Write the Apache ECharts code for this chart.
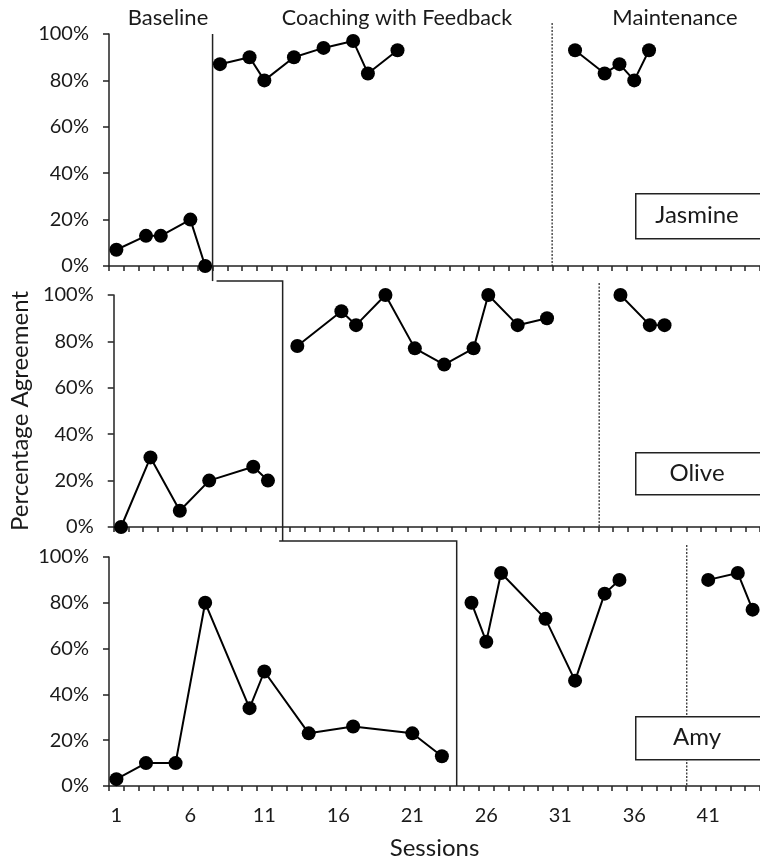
<!DOCTYPE html>
<html><head><meta charset="utf-8">
<script src="https://cdn.jsdelivr.net/npm/echarts@6/dist/echarts.min.js"></script>
<style>html,body{margin:0;padding:0;background:#fff}#c{width:760px;height:861px}</style>
</head><body><div id="c"></div>
<script>
// ---- data ----
const sessionLabels = ['1','2','3','4','5','6','7','8','9','10','11','12','13','14','15','16','17','18','19','20','21','22',
  '23','24','25','26','27','28','29','30','31','32','33','34','35','36','37','38','39','40','41','42','43','44'];
const yTicks = [0, 20, 40, 60, 80, 100];
const phaseTitles = ['Baseline', 'Coaching with Feedback', 'Maintenance'];
const participants = ['Jasmine', 'Olive', 'Amy'];

const jasmineBaseline = [[1,7],[3,13],[4,13],[6,20],[7,0]];
const jasmineCoaching = [[8,87],[10,90],[11,80],[13,90],[15,94],[17,97],[18,83],[20,93]];
const jasmineMaint    = [[32,93],[34,83],[35,87],[36,80],[37,93]];
const oliveBaseline   = [[1,0],[3,30],[5,7],[7,20],[10,26],[11,20]];
const oliveCoaching   = [[13,78],[16,93],[17,87],[19,100],[21,77],[23,70],[25,77],[26,100],[28,87],[30,90]];
const oliveMaint      = [[35,100],[37,87],[38,87]];
const amyBaseline     = [[1,3],[3,10],[5,10],[7,80],[10,34],[11,50],[14,23],[17,26],[21,23],[23,13]];
const amyCoaching     = [[25,80],[26,63],[27,93],[30,73],[32,46],[34,84],[35,90]];
const amyMaint        = [[41,90],[43,93],[44,77]];

// phase change positions (session units)
const coachingStart = [7.5, 12, 24];
const maintStart = [30.45, 33.55, 39.55];

const panelSeries = [
  [jasmineBaseline, jasmineCoaching, jasmineMaint],
  [oliveBaseline, oliveCoaching, oliveMaint],
  [amyBaseline, amyCoaching, amyMaint]
];

// ---- layout ----
const FONT = 'Lato';
const TXT = '#1a1a1a';
const grids = [
  {left: 109, right: 0, top: 34, height: 232},
  {left: 109, right: 0, top: 295, height: 232},
  {left: 109, right: 0, top: 557, height: 230}
];

// step line pieces (session, percent) for each panel
const stepLines = [
  [[coachingStart[0], 100], [coachingStart[0], -6.5]],
  [[coachingStart[0], 106], [coachingStart[1], 106], [coachingStart[1], -6]],
  [[coachingStart[1], 107], [coachingStart[2], 107], [coachingStart[2], 0]]
];
const dashTops = [104.7, 105.2, 105.2];

const xAxes = [], yAxes = [], series = [];
for (let i = 0; i < 3; i++) {
  xAxes.push({
    type: 'category', gridIndex: i, data: sessionLabels, boundaryGap: true,
    axisLine: {show: true, lineStyle: {color: '#222', width: 1.5}},
    axisTick: {show: true, interval: 0, length: 5, lineStyle: {color: '#222', width: 1.5}},
    axisLabel: {show: i === 2, interval: 4, fontFamily: FONT, fontSize: 20, color: TXT, margin: 20},
    splitLine: {show: false},
    name: i === 2 ? 'Sessions' : '', nameLocation: 'middle', nameGap: 50,
    nameTextStyle: {fontFamily: FONT, fontSize: 24, color: TXT}
  });
  xAxes.push({
    type: 'value', gridIndex: i, min: 0.5, max: 44.5, show: false
  });
  yAxes.push({
    type: 'value', gridIndex: i, min: 0, max: 100, interval: 20,
    axisLine: {show: true, lineStyle: {color: '#222', width: 1.5}},
    axisTick: {show: true, length: 6, lineStyle: {color: '#222', width: 1.5}},
    axisLabel: {formatter: '{value}%', fontFamily: FONT, fontSize: 20, color: TXT, margin: 20},
    splitLine: {show: false},
    name: i === 1 ? 'Percentage Agreement' : '', nameLocation: 'middle', nameGap: 80, nameRotate: 90,
    nameTextStyle: {fontFamily: FONT, fontSize: 24, color: TXT}
  });
  panelSeries[i].forEach(d => {
    series.push({
      type: 'line', xAxisIndex: 2 * i + 1, yAxisIndex: i, data: d,
      symbol: 'circle', symbolSize: 14, showSymbol: true,
      lineStyle: {color: '#000', width: 2}, itemStyle: {color: '#000'},
      clip: false, animation: false, z: 3
    });
  });
  // solid phase change step line
  const sl = stepLines[i];
  series.push({
    type: 'custom', xAxisIndex: 2 * i + 1, yAxisIndex: i, data: [[sl[0][0], 50]],
    clip: false, silent: true, animation: false, z: 2,
    renderItem: (params, api) => ({
      type: 'polyline',
      shape: {points: sl.map(p => api.coord(p))},
      style: {stroke: '#222', lineWidth: 1.5, fill: null}
    })
  });
  // dashed maintenance line
  const mx = maintStart[i], top = dashTops[i];
  series.push({
    type: 'custom', xAxisIndex: 2 * i + 1, yAxisIndex: i, data: [[mx, 50]],
    clip: false, silent: true, animation: false, z: 2,
    renderItem: (params, api) => ({
      type: 'line',
      shape: (() => { const a = api.coord([mx, top]), b = api.coord([mx, 0]); return {x1: a[0], y1: a[1], x2: b[0], y2: b[1]}; })(),
      style: {stroke: '#222', lineWidth: 1.2, lineDash: [2, 1.5]}
    })
  });
}

const boxes = [
  {y: 193, h: 45, cy: 215},
  {y: 452, h: 42, cy: 473},
  {y: 716, h: 43, cy: 737}
];
const graphic = [];
participants.forEach((name, i) => {
  graphic.push({
    type: 'rect', left: 635, top: boxes[i].y, z: 100,
    shape: {width: 140, height: boxes[i].h},
    style: {fill: '#fff', stroke: '#222', lineWidth: 1.5}
  });
  graphic.push({
    type: 'text', x: 697, y: boxes[i].cy, z: 101,
    style: {text: name, fontFamily: FONT, fontSize: 24, fill: TXT, textAlign: 'center', textVerticalAlign: 'middle'}
  });
});
const titleX = [168, 397, 675];
const titleSize = [22, 21.5, 22];
phaseTitles.forEach((t, i) => {
  graphic.push({
    type: 'text', x: titleX[i], y: 18, z: 101,
    style: {text: t, fontFamily: FONT, fontSize: titleSize[i], fill: TXT, textAlign: 'center', textVerticalAlign: 'middle'}
  });
});

const chart = echarts.init(document.getElementById('c'), null, {renderer: 'canvas'});
chart.setOption({
  animation: false,
  backgroundColor: '#fff',
  grid: grids,
  xAxis: xAxes,
  yAxis: yAxes,
  series: series,
  graphic: graphic
});
</script></body></html>
